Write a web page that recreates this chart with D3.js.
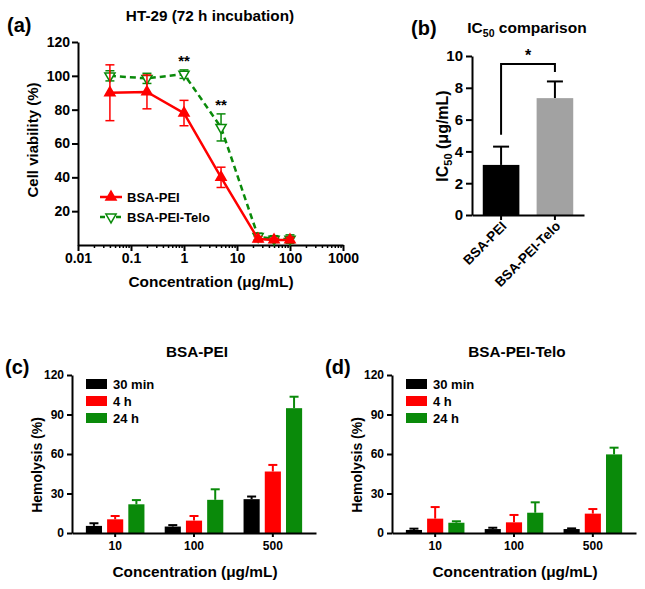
<!DOCTYPE html>
<html><head><meta charset="utf-8">
<script src="https://cdn.jsdelivr.net/npm/d3@7"></script>
<style>
body{margin:0;background:#fff;}
text{font-family:Arial,"Liberation Sans",sans-serif;font-weight:bold;fill:#000;}
</style></head>
<body><svg id="c" width="645" height="589"></svg>
<script>
// ---------- DATA ----------
// Panel (a): cell viability
const concA = [0.04, 0.2, 1, 5, 25, 50, 100];
const viabPEI = [90, 90.5, 78, 40, 3.5, 3, 3];
const viabPEIerr = [16.5, 10, 7.5, 6, 1.5, 1, 1.5];
const viabTelo = [100, 98.5, 101, 69.5, 5, 3.5, 3.5];
const viabTeloErr = [3, 3, 2.5, 8, 2, 2, 2.5];
const xTicksA = [0.01, 0.1, 1, 10, 100, 1000];
const yTicksA = [20, 40, 60, 80, 100, 120];
const sigA = [{x: 1, label: "**"}, {x: 5, label: "**"}];
// Panel (b): IC50
const icCats = ["BSA-PEI", "BSA-PEI-Telo"];
const icVals = [3.15, 7.35];
const icErr = [1.15, 1.05];
const yTicksB = [0, 2, 4, 6, 8, 10];
// Panels (c),(d): hemolysis
const hemoConc = ["10", "100", "500"];
const hemoTimes = ["30 min", "4 h", "24 h"];
const hemoPEI = [[5.4, 10.4, 21.8], [4.9, 9.4, 25.2], [25.7, 46.7, 94.8]];
const hemoPEIerr = [[2, 2.5, 3.2], [1.1, 3.5, 8], [2, 5, 8.7]];
const hemoTelo = [[2.3, 10.9, 7.8], [3, 8.1, 15.4], [3, 14.7, 59.7]];
const hemoTeloErr = [[1, 8.8, 1.1], [1, 5.6, 7.9], [0.5, 3.5, 5.1]];
const yTicksC = [0, 30, 60, 90, 120];

const RED = "#ff0000", GREEN = "#0a8a0a", GRAY = "#a2a2a2";
const timeColors = ["#000000", RED, GREEN];

const svg = d3.select("#c");
svg.append("rect").attr("width", 645).attr("height", 589).attr("fill", "#fff");

function styleAxis(g, w) {
  g.selectAll("path,line").attr("stroke", "#000").attr("stroke-width", w || 2);
  g.selectAll("text").attr("font-size", 12).attr("font-weight", "bold")
    .attr("font-family", "Arial,'Liberation Sans',sans-serif").attr("fill", "#000");
}

// ---------- Panel (a) ----------
{
  const x = d3.scaleLog().domain([0.01, 1000]).range([78, 343]);
  const y = d3.scaleLinear().domain([0, 120]).range([245, 42]);
  const g = svg.append("g");
  const minor = [];
  for (let e = -2; e < 3; e++) for (let m = 2; m <= 9; m++) minor.push(m * Math.pow(10, e));
  const gm = g.append("g").attr("transform", "translate(0,245)")
    .call(d3.axisBottom(x).tickValues(minor).tickSize(3).tickFormat(""));
  styleAxis(gm, 1.5); gm.select(".domain").remove();
  const gx = g.append("g").attr("transform", "translate(0,245)")
    .call(d3.axisBottom(x).tickValues(xTicksA).tickSize(6).tickPadding(2).tickSizeOuter(0)
      .tickFormat(d => String(d)));
  styleAxis(gx);
  gx.selectAll("text").attr("font-size", 14);
  const gy = g.append("g").attr("transform", "translate(78,0)")
    .call(d3.axisLeft(y).tickValues(yTicksA).tickSize(6).tickPadding(2).tickSizeOuter(0));
  styleAxis(gy);
  gy.selectAll("text").attr("font-size", 14);

  const line = d3.line().x((d, i) => x(concA[i])).y(d => y(d));
  const series = [
    {vals: viabTelo, err: viabTeloErr, color: GREEN, dash: "6,4", filled: false, sym: "down"},
    {vals: viabPEI, err: viabPEIerr, color: RED, dash: null, filled: true, sym: "up"}
  ];
  const tri = d3.symbol().type(d3.symbolTriangle).size(45);
  series.forEach(s => {
    const sg = g.append("g");
    sg.append("path").attr("d", line(s.vals)).attr("fill", "none")
      .attr("stroke", s.color).attr("stroke-width", 2.5)
      .attr("stroke-dasharray", s.dash);
    s.vals.forEach((v, i) => {
      const cx = x(concA[i]);
      const e = s.err[i];
      sg.append("line").attr("x1", cx).attr("x2", cx).attr("y1", y(v - e)).attr("y2", y(v + e))
        .attr("stroke", s.color).attr("stroke-width", 1.5);
      [v - e, v + e].forEach(t => sg.append("line").attr("x1", cx - 4.5).attr("x2", cx + 4.5)
        .attr("y1", y(t)).attr("y2", y(t)).attr("stroke", s.color).attr("stroke-width", 1.5));
      sg.append("path").attr("d", tri())
        .attr("transform", `translate(${cx},${y(v)}) rotate(${s.sym === "down" ? 180 : 0})`)
        .attr("fill", s.filled ? s.color : "#fff").attr("stroke", s.color).attr("stroke-width", 1.5);
    });
  });
  sigA.forEach(s => {
    const idx = concA.indexOf(s.x);
    g.append("text").attr("x", x(s.x)).attr("y", y(viabTelo[idx] + viabTeloErr[idx]) - 4)
      .attr("text-anchor", "middle").attr("font-size", 15).attr("font-weight", "normal")
      .attr("fill", "#222").text(s.label);
  });
  const leg = [{name: "BSA-PEI", color: RED, dash: null, filled: true, sym: "up", y: 197},
               {name: "BSA-PEI-Telo", color: GREEN, dash: "5,3", filled: false, sym: "down", y: 217}];
  leg.forEach(l => {
    g.append("line").attr("x1", 100).attr("x2", 122).attr("y1", l.y).attr("y2", l.y)
      .attr("stroke", l.color).attr("stroke-width", 2.5).attr("stroke-dasharray", l.dash);
    g.append("path").attr("d", tri())
      .attr("transform", `translate(111,${l.y}) rotate(${l.sym === "down" ? 180 : 0})`)
      .attr("fill", l.filled ? l.color : "#fff").attr("stroke", l.color).attr("stroke-width", 1.5);
    g.append("text").attr("x", 127).attr("y", l.y + 5).attr("font-size", 13).text(l.name);
  });
  g.append("text").attr("x", 210).attr("y", 21).attr("text-anchor", "middle")
    .attr("font-size", 15.3).text("HT-29 (72 h incubation)");
  g.append("text").attr("x", 7).attr("y", 32).attr("font-size", 20).text("(a)");
  g.append("text").attr("transform", "translate(38,140) rotate(-90)").attr("text-anchor", "middle")
    .attr("font-size", 15).text("Cell viability (%)");
  g.append("text").attr("x", 211).attr("y", 287).attr("text-anchor", "middle")
    .attr("font-size", 15.4).text("Concentration (\u03bcg/mL)");
}

// ---------- Panel (b) ----------
{
  const x = d3.scaleBand().domain(icCats).range([472, 584]).paddingInner(0.32).paddingOuter(0.2);
  const y = d3.scaleLinear().domain([0, 10]).range([215, 56]);
  const g = svg.append("g");
  const colors = ["#000", GRAY];
  icCats.forEach((c, i) => {
    const cx = x(c) + x.bandwidth() / 2;
    g.append("line").attr("x1", cx).attr("x2", cx).attr("y1", y(icVals[i])).attr("y2", y(icVals[i] + icErr[i]))
      .attr("stroke", "#000").attr("stroke-width", 2);
    g.append("line").attr("x1", cx - 8).attr("x2", cx + 8).attr("y1", y(icVals[i] + icErr[i]))
      .attr("y2", y(icVals[i] + icErr[i])).attr("stroke", "#000").attr("stroke-width", 2);
    g.append("rect").attr("x", x(c)).attr("width", x.bandwidth()).attr("y", y(icVals[i]))
      .attr("height", y(0) - y(icVals[i])).attr("fill", colors[i]);
  });
  const gx = g.append("g").attr("transform", "translate(0,215)")
    .call(d3.axisBottom(x).tickSize(5).tickSizeOuter(0));
  styleAxis(gx);
  gx.selectAll("text").attr("font-size", 13.5).attr("text-anchor", "end")
    .attr("transform", "translate(3,3) rotate(-45)").attr("dy", "0.35em").attr("y", 4).attr("x", -4);
  const gy = g.append("g").attr("transform", "translate(472,0)")
    .call(d3.axisLeft(y).tickValues(yTicksB).tickSize(6).tickPadding(3).tickSizeOuter(0));
  styleAxis(gy);
  gy.selectAll("text").attr("font-size", 15);
  const c0 = x(icCats[0]) + x.bandwidth() / 2, c1 = x(icCats[1]) + x.bandwidth() / 2;
  g.append("path").attr("d", `M${c0},${y(5.05)}V${y(9.5)}H${c1}V${y(9.0)}`)
    .attr("fill", "none").attr("stroke", "#000").attr("stroke-width", 2);
  g.append("text").attr("x", (c0 + c1) / 2).attr("y", y(9.5) - 3).attr("text-anchor", "middle")
    .attr("font-size", 16).attr("font-weight", "normal").text("*");
  const t = g.append("text").attr("x", 527).attr("y", 33).attr("text-anchor", "middle").attr("font-size", 15.5);
  t.append("tspan").text("IC");
  t.append("tspan").attr("font-size", 10.5).attr("dy", 4).text("50");
  t.append("tspan").attr("dy", -4).text(" comparison");
  g.append("text").attr("x", 411).attr("y", 35).attr("font-size", 20).text("(b)");
  const yl = g.append("text").attr("transform", "translate(448,136) rotate(-90)").attr("text-anchor", "middle").attr("font-size", 16);
  yl.append("tspan").text("IC");
  yl.append("tspan").attr("font-size", 11).attr("dy", 4).text("50");
  yl.append("tspan").attr("dy", -4).text(" (\u03bcg/mL)");
}

// ---------- Panels (c),(d) ----------
function hemoPanel(ox, vals, errs, title, tag) {
  const x = d3.scaleBand().domain(hemoConc).range([72 + ox, 316 + ox]).paddingInner(0.257).paddingOuter(0.176);
  const xs = d3.scaleBand().domain(hemoTimes).range([0, x.bandwidth()]).paddingInner(0.24);
  const y = d3.scaleLinear().domain([0, 120]).range([533, 375]);
  const g = svg.append("g");
  hemoConc.forEach((c, i) => {
    hemoTimes.forEach((t, j) => {
      const v = vals[i][j], e = errs[i][j];
      const bx = x(c) + xs(t), cx = bx + xs.bandwidth() / 2;
      g.append("line").attr("x1", cx).attr("x2", cx).attr("y1", y(v)).attr("y2", y(v + e))
        .attr("stroke", timeColors[j]).attr("stroke-width", 2);
      g.append("line").attr("x1", cx - 4.5).attr("x2", cx + 4.5).attr("y1", y(v + e)).attr("y2", y(v + e))
        .attr("stroke", timeColors[j]).attr("stroke-width", 2);
      g.append("rect").attr("x", bx).attr("width", xs.bandwidth()).attr("y", y(v))
        .attr("height", y(0) - y(v)).attr("fill", timeColors[j]);
    });
  });
  const gx = g.append("g").attr("transform", "translate(0,533)")
    .call(d3.axisBottom(x).tickSize(4).tickPadding(4.5).tickSizeOuter(0));
  styleAxis(gx);
  gx.selectAll("text").attr("font-size", 12);
  const gy = g.append("g").attr("transform", `translate(${72 + ox},0)`)
    .call(d3.axisLeft(y).tickValues(yTicksC).tickSize(5).tickPadding(3).tickSizeOuter(0));
  styleAxis(gy);
  gy.selectAll("text").attr("font-size", 12);
  hemoTimes.forEach((t, j) => {
    const ly = 379 + j * 17;
    g.append("rect").attr("x", 86 + ox).attr("y", ly).attr("width", 21).attr("height", 10).attr("fill", timeColors[j]);
    g.append("text").attr("x", 113 + ox).attr("y", ly + 10).attr("font-size", 13).text(t);
  });
  g.append("text").attr("x", 197 + ox).attr("y", 357).attr("text-anchor", "middle").attr("font-size", 15.3).text(title);
  g.append("text").attr("x", 5 + ox).attr("y", 374).attr("font-size", 20).text(tag);
  g.append("text").attr("transform", `translate(${42 + ox},465) rotate(-90)`).attr("text-anchor", "middle")
    .attr("font-size", 14).text("Hemolysis (%)");
  g.append("text").attr("x", 195 + ox).attr("y", 577).attr("text-anchor", "middle").attr("font-size", 15.4)
    .text("Concentration (\u03bcg/mL)");
}
hemoPanel(0, hemoPEI, hemoPEIerr, "BSA-PEI", "(c)");
hemoPanel(320, hemoTelo, hemoTeloErr, "BSA-PEI-Telo", "(d)");
</script></body></html>
